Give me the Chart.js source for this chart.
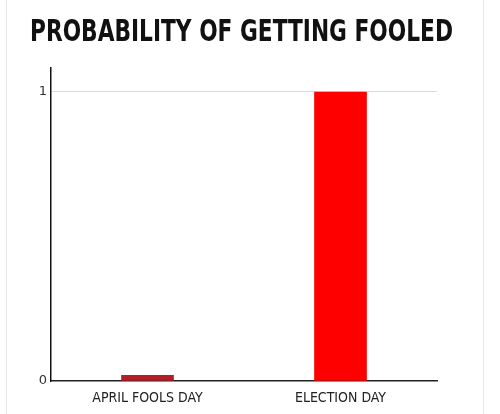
<!DOCTYPE html>
<html>
<head>
<meta charset="utf-8">
<script src="https://cdn.jsdelivr.net/npm/chart.js@4"></script>
<style>
  html, body { margin: 0; padding: 0; background: #fff; }
  #wrap { position: relative; width: 500px; height: 414px; }
  #frame { position: absolute; left: 6px; top: 0; width: 478px; height: 414px;
           border-left: 1px solid #e4e7eb; border-right: 1px solid #e4e7eb; box-sizing: border-box; }
  canvas { position: absolute; left: 0; top: 0; }
</style>
</head>
<body>
<div id="wrap">
  <div id="frame"></div>
  <canvas id="chart" width="500" height="414"></canvas>
</div>
<script>
// chart data
const categories = ['APRIL FOOLS DAY', 'ELECTION DAY'];
const probability = [0.02, 1];
const barColors = ['#b21d26', '#ff0000'];
const yTicks = [0, 1];
const titleText = 'PROBABILITY OF GETTING FOOLED';

const narrow = "'Liberation Sans Narrow', 'DejaVu Sans Condensed', sans-serif";

const ctx = document.getElementById('chart').getContext('2d');
new Chart(ctx, {
    type: 'bar',
    data: {
        labels: categories,
        datasets: [{
            data: probability,
            backgroundColor: barColors,
            borderWidth: 0,
            barThickness: 52
        }]
    },
    options: {
        responsive: false,
        animation: false,
        // padding sets the title box (x 30..453); axis widths set the plot box (x 51..437)
        layout: { padding: { top: 0, right: 47, bottom: 0, left: 30 } },
        plugins: {
            legend: { display: false },
            tooltip: { enabled: false },
            title: {
                display: true,
                text: titleText,
                color: '#111',
                font: { family: narrow, size: 30, weight: 'bold', lineHeight: 1.2 },
                padding: { top: 15, bottom: 17 }
            }
        },
        scales: {
            x: {
                grid: { display: false, drawTicks: false },
                border: { color: '#222', width: 1.5 },
                ticks: { color: '#222', padding: 9, font: { family: narrow, size: 14 } },
                afterFit: s => { s.height = 33; }
            },
            y: {
                min: 0,
                max: 1.083,
                afterBuildTicks: s => { s.ticks = yTicks.map(v => ({ value: v })); },
                grid: {
                    drawTicks: false,
                    color: c => (c.tick && c.tick.value === 1 ? '#dcdcdc' : 'rgba(0,0,0,0)')
                },
                border: { color: '#111', width: 1.5 },
                ticks: { padding: 4, color: '#333', font: { family: "'DejaVu Sans', sans-serif", size: 13 } },
                afterFit: s => { s.width = 21; }
            },
            // empty spacer on the right
            yRight: {
                type: 'linear',
                position: 'right',
                grid: { display: false, drawTicks: false },
                border: { display: false },
                ticks: { display: false },
                afterFit: s => { s.width = 16; }
            }
        }
    }
});
</script>
</body>
</html>
